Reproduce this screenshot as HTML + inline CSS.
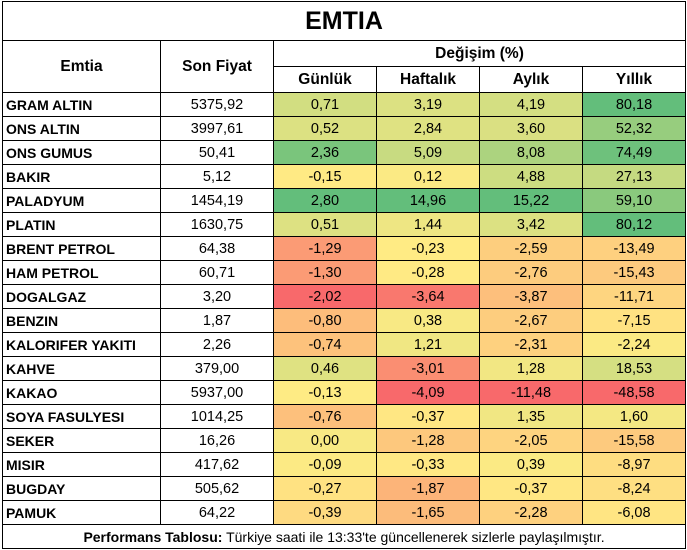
<!DOCTYPE html>
<html><head><meta charset="utf-8"><style>
body{margin:0;background:#fff;font-family:"Liberation Sans",sans-serif;}
table{position:absolute;left:2px;top:1px;border-collapse:collapse;table-layout:fixed;width:683px;}
td{border:1px solid #000;padding:0;text-align:center;font-size:14.5px;height:23px;white-space:nowrap;overflow:hidden;color:#000;}
td.n{text-align:left;font-weight:bold;padding-left:3px;font-size:14px;}
.t{height:38px;font-size:25px;font-weight:bold;}
.h{font-weight:bold;font-size:15.5px;}
</style></head><body>
<table id="t">
<colgroup><col style="width:158px"><col style="width:113px"><col style="width:103px"><col style="width:103px"><col style="width:103px"><col style="width:103px"></colgroup>
<tr><td colspan="6" class="t">EMTIA</td></tr>
<tr><td rowspan="2" class="h">Emtia</td><td rowspan="2" class="h">Son Fiyat</td><td colspan="4" class="h" style="height:25px">Değişim (%)</td></tr>
<tr><td class="h" style="height:25px">Günlük</td><td class="h">Haftalık</td><td class="h">Aylık</td><td class="h">Yıllık</td></tr>
<tbody id="b"></tbody>
<tr><td colspan="6" style="font-size:14px;height:23px"><b>Performans Tablosu:</b> Türkiye saati ile 13:33'te güncellenerek sizlerle paylaşılmıştır.</td></tr>
</table>
<script>
var d=[["GRAM ALTIN","5375,92",0.71,3.19,4.19,80.18],["ONS ALTIN","3997,61",0.52,2.84,3.60,52.32],["ONS GUMUS","50,41",2.36,5.09,8.08,74.49],["BAKIR","5,12",-0.15,0.12,4.88,27.13],["PALADYUM","1454,19",2.80,14.96,15.22,59.10],["PLATIN","1630,75",0.51,1.44,3.42,80.12],["BRENT PETROL","64,38",-1.29,-0.23,-2.59,-13.49],["HAM PETROL","60,71",-1.30,-0.28,-2.76,-15.43],["DOGALGAZ","3,20",-2.02,-3.64,-3.87,-11.71],["BENZIN","1,87",-0.80,0.38,-2.67,-7.15],["KALORIFER YAKITI","2,26",-0.74,1.21,-2.31,-2.24],["KAHVE","379,00",0.46,-3.01,1.28,18.53],["KAKAO","5937,00",-0.13,-4.09,-11.48,-48.58],["SOYA FASULYESI","1014,25",-0.76,-0.37,1.35,1.60],["SEKER","16,26",0.00,-1.28,-2.05,-15.58],["MISIR","417,62",-0.09,-0.33,0.39,-8.97],["BUGDAY","505,62",-0.27,-1.87,-0.37,-8.24],["PAMUK","64,22",-0.39,-1.65,-2.28,-6.08]];
var R=[248,105,107],Y=[255,235,132],G=[99,190,123];
function mix(a,b,t){return "rgb("+a.map(function(v,i){return Math.round(v+(b[i]-v)*t)}).join(",")+")";}
var st=[];
for(var c=2;c<6;c++){var v=d.map(function(r){return r[c]}).sort(function(a,b){return a-b});var n=v.length;var med=(v[n/2-1]+v[n/2])/2;st[c]=[v[0],med,v[n-1]];}
var h="";
d.forEach(function(r){h+="<tr><td class='n'>"+r[0]+"</td><td>"+r[1]+"</td>";
for(var c=2;c<6;c++){var s=st[c],x=r[c],col;
if(x<=s[1])col=mix(R,Y,(x-s[0])/(s[1]-s[0]));else col=mix(Y,G,(x-s[1])/(s[2]-s[1]));
h+="<td style='background:"+col+"'>"+x.toFixed(2).replace(".",",")+"</td>";}
h+="</tr>";});
document.getElementById("b").innerHTML=h;
</script>
</body></html>
